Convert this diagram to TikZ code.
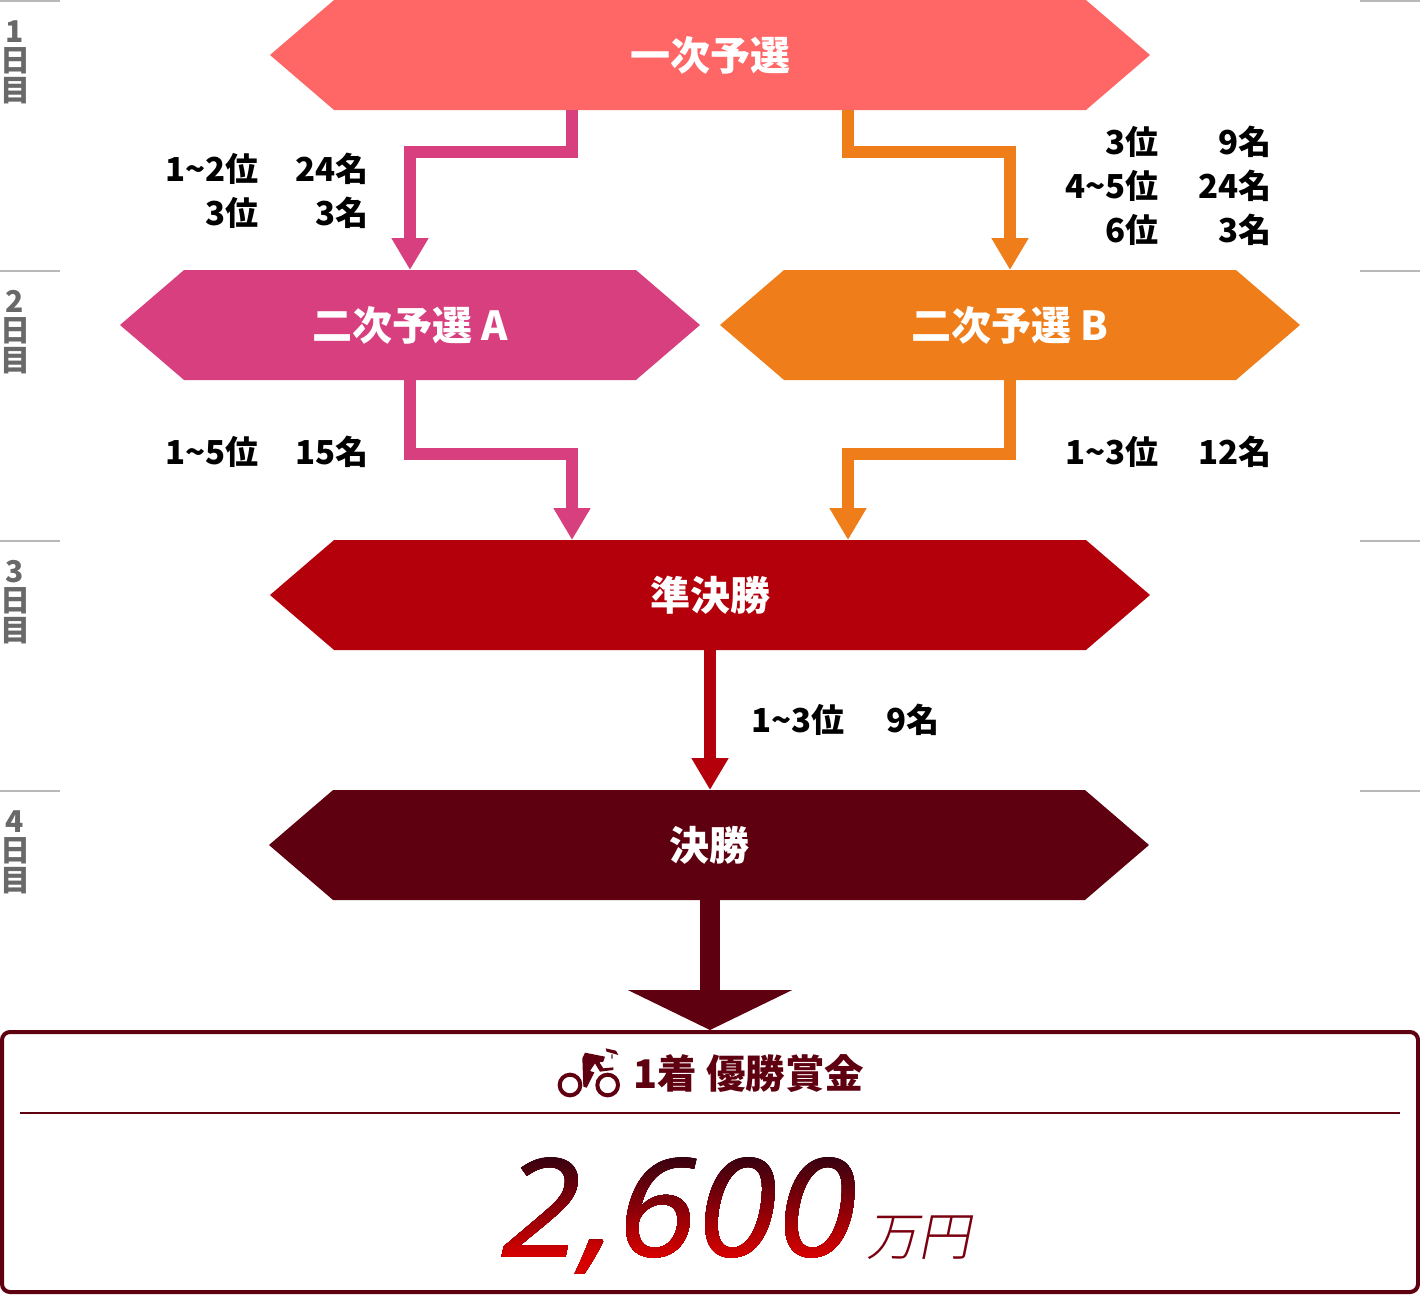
\documentclass[tikz,border=0pt]{standalone}
\usepackage{fontspec}
\setmainfont{Noto Sans CJK JP}
\newfontfamily\prizefont[FakeStretch=1.066,FakeBold=0.4]{Open Sans}
\newfontfamily\unitfont[FakeSlant=0.2]{Noto Sans CJK JP Light}
\usepackage{xcolor}
\usetikzlibrary{arrows.meta,shapes.symbols}
\definecolor{daygray}{RGB}{105,105,105}
\definecolor{linegray}{RGB}{184,184,184}
\definecolor{roundone}{RGB}{255,102,102}
\definecolor{roundpink}{RGB}{216,63,126}
\definecolor{roundorange}{RGB}{239,125,26}
\definecolor{roundred}{RGB}{179,0,11}
\definecolor{rounddark}{RGB}{95,0,16}
\definecolor{prizetop}{RGB}{58,0,16}
\definecolor{prizebottom}{RGB}{214,0,0}
\definecolor{prizeunit}{RGB}{122,0,16}

\newcommand{\rankrow}[3][110pt]{\mbox{#2\makebox[#1][r]{#3}}}

\tikzset{
hexa/.style={signal,signal to=east and west,signal pointer angle=81.3,
  minimum width=#1,minimum height=110pt,inner sep=0pt,outer sep=0pt,
  text=white,font=\fontsize{40}{44}\selectfont\bfseries},
flow/.style={draw=#1,line width=12pt,-{Triangle[width=35pt,length=32pt]}},
ranktext/.style={anchor=east,align=right,inner sep=0pt,font=\fontsize{33}{44}\selectfont\bfseries},
daytext/.style={text=daygray,align=center,inner sep=0pt,font=\fontsize{30}{29.5}\selectfont\bfseries}
}

\begin{document}
\begin{tikzpicture}[x=1pt,y=-1pt]

\useasboundingbox (0,0) rectangle (1420,1294);

% Day rules
\foreach \y in {1,271,541,791}{
\draw[linegray,line width=2pt] (0,\y) -- (60,\y);
\draw[linegray,line width=2pt] (1360,\y) -- (1420,\y);
}

% Day labels
\node[daytext] (day1) at (15,62) {1\\日\\目};
\node[daytext] (day2) at (15,332) {2\\日\\目};
\node[daytext] (day3) at (15,602) {3\\日\\目};
\node[daytext] (day4) at (15,852) {4\\日\\目};

% Rounds
\node[hexa=880pt,fill=roundone] (yosen1) at (710,55) {一次予選};
\node[hexa=580pt,fill=roundpink] (yosenA) at (410,325) {二次予選 A};
\node[hexa=580pt,fill=roundorange] (yosenB) at (1010,325) {二次予選 B};
\node[hexa=880pt,fill=roundred] (semi) at (710,595) {準決勝};
\node[hexa=880pt,fill=rounddark] (final) at (709,845) {決勝};

% Prize box
\node[draw=rounddark,line width=4pt,rounded corners=8pt,minimum width=1416pt,minimum height=260pt] (prizebox) at (710,1162) {};
\coordinate (ruleL) at (20,1112.5);
\coordinate (ruleR) at (1400,1112.5);
\draw[rounddark,line width=2pt] (ruleL) -- (ruleR);

% Connectors
\draw[flow=roundpink] ([xshift=-138pt]yosen1.south) -- ++(0,42) -| (yosenA.north);
\draw[flow=roundorange] ([xshift=138pt]yosen1.south) -- ++(0,42) -| (yosenB.north);
\draw[flow=roundpink] (yosenA.south) -- ++(0,74) -| ([xshift=-138pt]semi.north);
\draw[flow=roundorange] (yosenB.south) -- ++(0,74) -| ([xshift=138pt]semi.north);
\draw[flow=roundred] (semi.south) -- (semi.south |- final.north);
\draw[draw=rounddark,line width=20pt,-{Triangle[width=163pt,length=40pt]}] ([xshift=1pt]final.south) -- (prizebox.north);

% Rank labels
\node[ranktext] (rank1A) at (368.7,191) {\rankrow{1\textasciitilde 2位}{24名}\\\rankrow{3位}{3名}};
\node[ranktext] (rank1B) at (1271.7,186) {\rankrow[113pt]{3位}{9名}\\\rankrow[113pt]{4\textasciitilde 5位}{24名}\\\rankrow[113pt]{6位}{3名}};
\node[ranktext] (rankA) at (368.7,452) {\rankrow{1\textasciitilde 5位}{15名}};
\node[ranktext] (rankB) at (1271.7,452) {\rankrow[113pt]{1\textasciitilde 3位}{12名}};
\node[ranktext,anchor=west] (rankSemi) at (751,720) {1\textasciitilde 3位\makebox[95pt][r]{9名}};

% Prize heading
\node[text=rounddark,font=\fontsize{39.5}{44}\selectfont\bfseries] (prizehead) at (749,1074) {1着 優勝賞金};

% Cyclist
\begin{scope}[shift={(540,1035)},scale=0.3333]
\draw[rounddark,line width=4pt] (90,150) circle (31);
\draw[rounddark,line width=4pt] (203,150) circle (31);
\fill[rounddark] (127,70) -- (135,53) -- (195,65) -- (190,80) -- (178,82) -- (190,100) -- (220,97) -- (220,105) -- (180,110) -- (165,85) -- (150,108) -- (163,112) -- (140,158) -- (130,155) -- cycle;
\fill[rounddark] (197,40) -- (228,47) -- (235,60) -- (200,50) -- cycle;
\fill[rounddark!60] (213,58) -- (219,58) -- (218,72) -- (214,72) -- cycle;
\end{scope}

% Prize amount, one band of colour at a time
\foreach \y [evaluate=\y as \pct using {min(100,(\y-1157)/0.98)}] in {1150,1153,...,1256}{
\begin{scope}
\clip (480,\y) rectangle (880,1285);
\node[anchor=base,inner sep=0pt,text=prizebottom!\pct!prizetop,font=\fontsize{136}{136}\selectfont\prizefont\itshape] (prize\y) at (679,1256) {2,600};
\end{scope}
}
\node[text=prizeunit,font=\fontsize{52}{52}\selectfont\unitfont] (prizeunit) at (918,1238) {万円};

\end{tikzpicture}
\end{document}
